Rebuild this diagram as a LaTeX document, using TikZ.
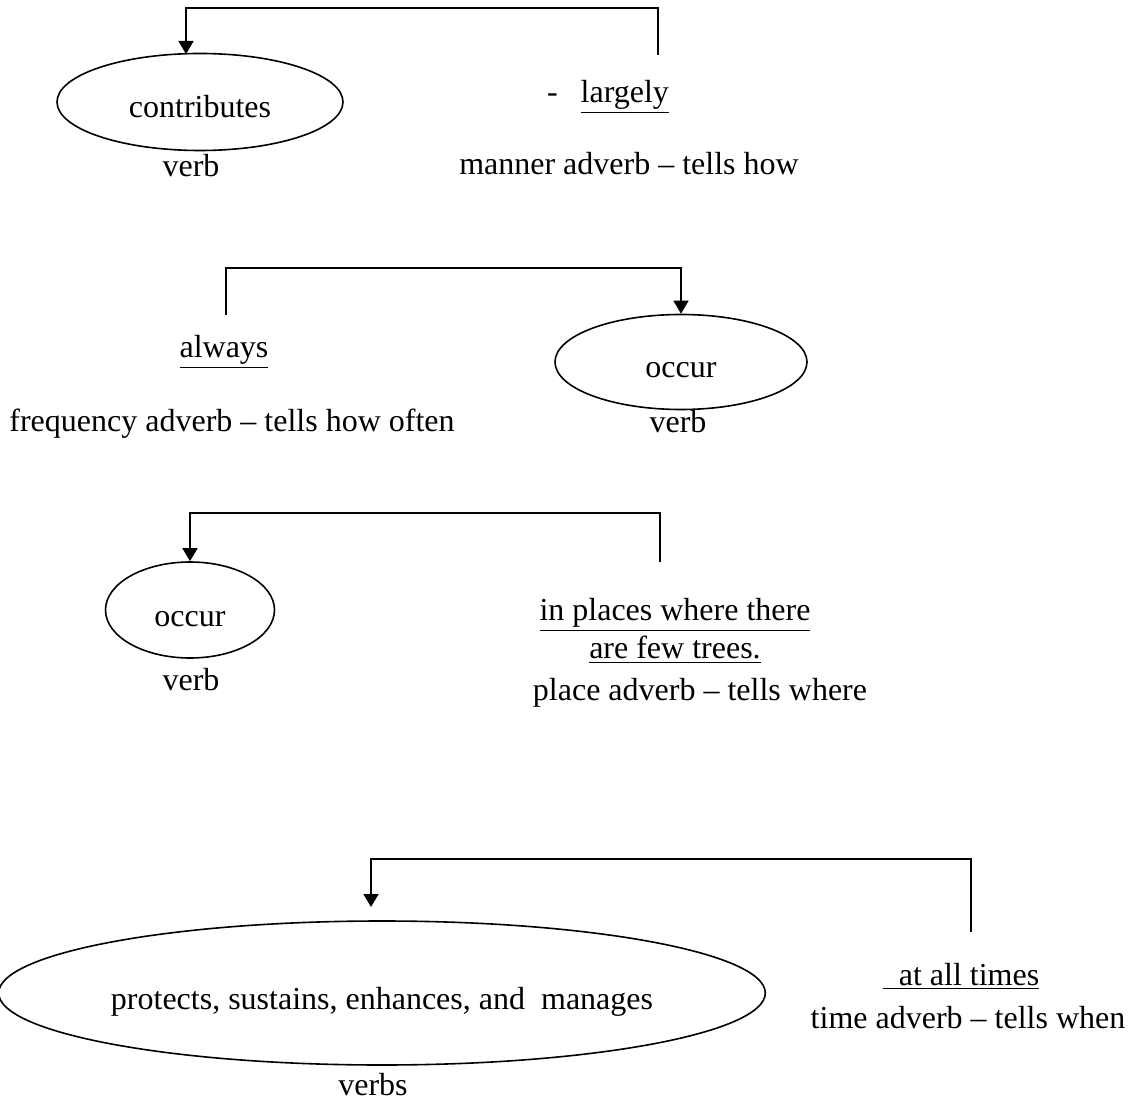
\documentclass[tikz,border=0pt]{standalone}
\usepackage{fontspec}
\setmainfont{Liberation Serif}
\usetikzlibrary{arrows.meta,positioning,shapes.geometric}
\tikzset{
 oval/.style={draw,ellipse,line width=0.8pt,inner sep=0pt,text height=17.6pt,text depth=1.6pt},
 word/.style={inner sep=0pt,align=center,anchor=base},
 arrow/.style={-{Triangle[length=6.5pt,width=7.5pt]},line width=0.8pt}
}

\begin{document}
\begin{tikzpicture}[x=0.5pt,y=-0.5pt,font=\fontsize{16}{19}\selectfont]
\useasboundingbox (0,0) rectangle (1135,1101);
% contributes -- largely
\node[oval,minimum width=143pt,minimum height=48.5pt] (contrib) at (200,102) {contributes};
\node[word] (verbA) at (191,177) {verb};
\node[word] (largely) at (608,103) {-\hspace{11.5pt}\underline{largely}};
\node[word] (manner) at (629,175) {manner adverb -- tells how};
\coordinate (stubA) at (658,55);
\coordinate (tipA) at (186,54);
\draw[arrow] (stubA) -- ++(0,-47) -| (tipA);
% always -- occur
\node[word] (always) at (224,358) {\underline{always}};
\node[word] (freq) at (232,431) {frequency adverb -- tells how often};
\node[oval,minimum width=126pt,minimum height=47.5pt] (occurA) at (681,362) {occur};
\node[word] (verbB) at (678,433) {verb};
\coordinate (stubB) at (226,315);
\draw[arrow] (stubB) -- ++(0,-47) -| (occurA.north);
% occur -- in places
\node[oval,minimum width=84.5pt,minimum height=48pt] (occurB) at (190,610) {occur};
\node[word] (verbC) at (191,690) {verb};
\node[word,anchor=center] (places) at (675,631) {\underline{in places where there}\\\underline{are few trees.}};
\node[word] (place) at (700,700) {place adverb -- tells where};
\coordinate (stubC) at (660,562);
\draw[arrow] (stubC) -- ++(0,-49) -| (occurB.north);
% protects ... -- at all times
\node[oval,minimum width=372pt,minimum height=72pt] (verbs) at (382,993) {protects, sustains, enhances, and\ \ manages};
\node[word] (verbD) at (373,1095) {verbs};
\node[word] (times) at (961,985) {\underline{\hspace{8pt}at all times}};
\node[word] (timeadv) at (968,1028) {time adverb -- tells when};
\coordinate (stubD) at (971,932);
\coordinate (tipD) at (371,907);
\draw[arrow] (stubD) -- ++(0,-73) -| (tipD);
\end{tikzpicture}
\end{document}
